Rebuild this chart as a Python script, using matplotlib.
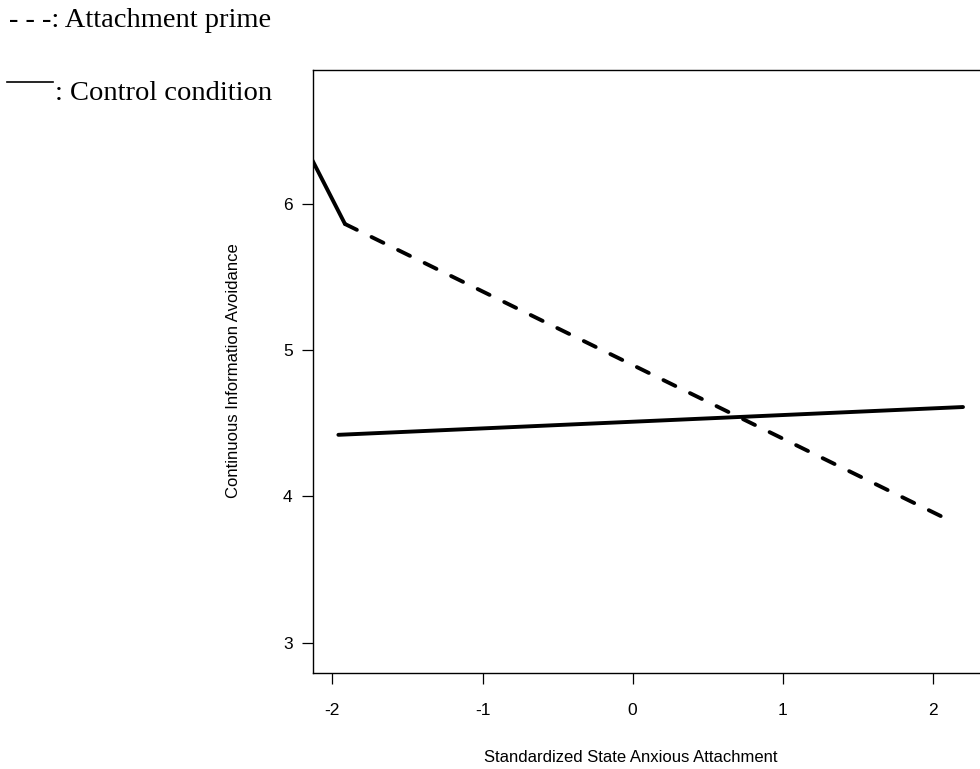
import matplotlib
matplotlib.use("Agg")
import matplotlib.pyplot as plt
from matplotlib.lines import Line2D

# ---- data ----
x_ticks = [-2, -1, 0, 1, 2]
y_ticks = [3, 4, 5, 6]

# solid "control condition" line
control_x = [-1.96, 2.20]
control_y = [4.42, 4.61]

# dashed "attachment prime" line (with its solid leading segment)
prime_lead_x = [-2.15, -1.916]
prime_lead_y = [6.33, 5.861]
prime_x = [-1.916, 2.113]
prime_y = [5.861, 3.834]

legend_prime = "- - -: Attachment prime"
legend_control = ": Control condition"
x_label = "Standardized State Anxious Attachment"
y_label = "Continuous Information Avoidance"

W, H = 980, 769
fig = plt.figure(figsize=(W / 100, H / 100), dpi=100)

# axes geometry in pixels (right edge lies beyond the visible figure)
xmin, xmax = -2.131, 2.45
left_px, bottom_px, top_px = 312.7, 673.3, 69.5
px_per_x = 150.15
right_px = left_px + (xmax - xmin) * px_per_x
ax = fig.add_axes([left_px / W, (H - bottom_px) / H,
                   (right_px - left_px) / W, (bottom_px - top_px) / H])
ax.set_xlim(xmin, xmax)
ax.set_ylim(2.79, 6.917)

sans = ["Liberation Sans", "DejaVu Sans"]
serif = ["Liberation Serif", "DejaVu Serif"]

ax.plot(control_x, control_y, color="black", lw=2.8, solid_capstyle="round")
ax.plot(prime_lead_x, prime_lead_y, color="black", lw=2.8, solid_capstyle="round")
ax.plot(prime_x, prime_y, color="black", lw=2.8,
        linestyle=(0, (3.4, 4.2)), dash_capstyle="round")

ax.set_xticks(x_ticks)
ax.set_xticklabels([str(v) for v in x_ticks], fontfamily=sans, fontsize=12.5)
ax.set_yticks(y_ticks)
ax.set_yticklabels([str(v) for v in y_ticks], fontfamily=sans, fontsize=12.5)
ax.tick_params(axis="x", direction="out", length=8.2, width=0.9, pad=13.5)
ax.tick_params(axis="y", direction="out", length=8.0, width=0.9, pad=6.5)

for s in ax.spines.values():
    s.set_linewidth(1.0)
    s.set_color("black")

# axis titles placed as figure text
fig.text(631 / W, 1 - 757 / H, x_label, ha="center", va="center",
         fontfamily=sans, fontsize=12)
fig.text(233 / W, 1 - 371 / H, y_label, ha="center", va="center",
         rotation=90, fontfamily=sans, fontsize=12)

# hand-drawn legend in the top-left corner
fig.text(9 / W, 1 - 27.3 / H, legend_prime, ha="left", va="baseline",
         fontfamily=serif, fontsize=20.5)
fig.add_artist(Line2D([7 / W, 53 / W], [1 - 82 / H, 1 - 82 / H],
                      color="black", lw=1.2, transform=fig.transFigure))
fig.text(55 / W, 1 - 100 / H, legend_control, ha="left", va="baseline",
         fontfamily=serif, fontsize=20.5)

fig.savefig("out.png", dpi=100)
